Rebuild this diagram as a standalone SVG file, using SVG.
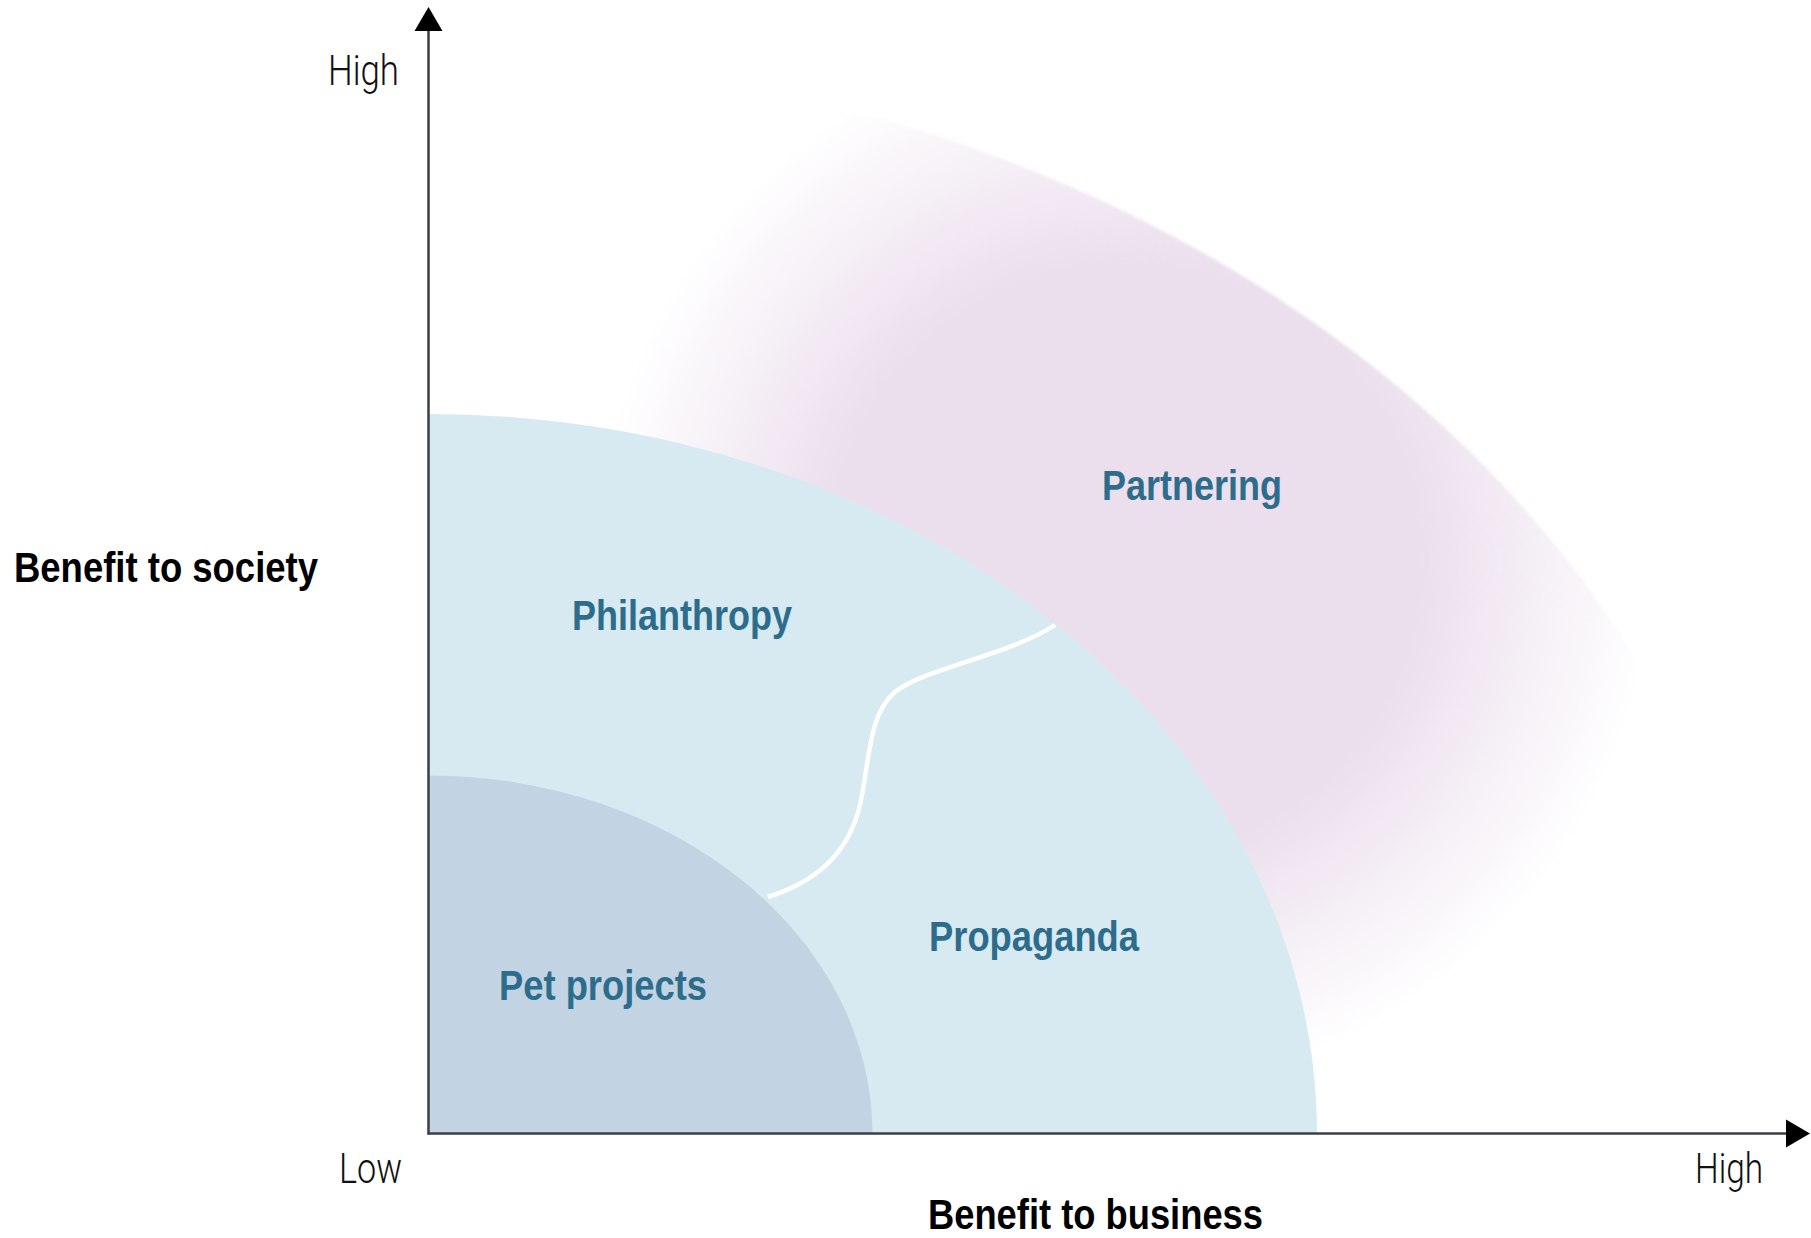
<svg xmlns="http://www.w3.org/2000/svg" width="1811" height="1238" viewBox="0 0 1811 1238">
<style>
.zone-label{font-family:"Liberation Sans Narrow","Liberation Sans",Arial,sans-serif;font-weight:bold;font-size:42px;fill:#2d6d8b}
.axis-title{font-family:"Liberation Sans Narrow","Liberation Sans",Arial,sans-serif;font-weight:bold;font-size:43px;fill:#000}
.axis-tick{font-family:Roboto,"Liberation Sans",Arial,sans-serif;font-weight:300;font-size:42px;fill:#111}
.axis{stroke:#3a3f45;stroke-width:2.5;fill:none}
.head{fill:#000}
</style>
<defs>
<radialGradient id="pinkGlow" gradientUnits="userSpaceOnUse" cx="1125" cy="560" r="530">
<stop offset="0" stop-color="#ebdfed" stop-opacity="1"/>
<stop offset="0.56" stop-color="#ebdfed" stop-opacity="1"/>
<stop offset="0.8" stop-color="#ebdfed" stop-opacity="0.45"/>
<stop offset="1" stop-color="#ebdfed" stop-opacity="0"/>
</radialGradient>
<filter id="soft" x="-5%" y="-5%" width="110%" height="110%">
<feGaussianBlur stdDeviation="1.5"/>
</filter>
</defs>
<rect x="0" y="0" width="1811" height="1238" fill="#ffffff"/>

<g id="partnering">
<path d="M 428.5 1134 L 428.5 56 A 1345 1078 0 0 1 1773.5 1134 Z" fill="url(#pinkGlow)" filter="url(#soft)"/>
<text class="zone-label" x="1102" y="500" textLength="180" lengthAdjust="spacingAndGlyphs">Partnering</text>
</g>

<g id="philanthropy-propaganda">
<path d="M 428.5 1134 L 428.5 414 A 888.5 720 0 0 1 1317 1134 Z" fill="#d7eaf2"/>
</g>

<g id="pet-projects">
<path d="M 428.5 1134 L 428.5 775.5 A 444 358.5 0 0 1 872.5 1134 Z" fill="#c2d4e3"/>
<text class="zone-label" x="499" y="1000" textLength="208" lengthAdjust="spacingAndGlyphs">Pet projects</text>
</g>

<g id="philanthropy">
<text class="zone-label" x="572" y="630" textLength="220" lengthAdjust="spacingAndGlyphs">Philanthropy</text>
</g>

<g id="propaganda">
<text class="zone-label" x="929" y="951" textLength="210" lengthAdjust="spacingAndGlyphs">Propaganda</text>
</g>

<g id="connectors">
<path d="M 768 897 C 815 882, 848 855, 860 805 C 870 760, 868 715, 895 692 C 925 668, 1010 655, 1055 625" fill="none" stroke="#ffffff" stroke-width="4.5" stroke-linecap="butt"/>
<line class="axis" x1="428.5" y1="28" x2="428.5" y2="1134.5"/>
<line class="axis" x1="427.5" y1="1133.5" x2="1790" y2="1133.5"/>
<polygon class="head" points="428.5,7 414.5,31 442.5,31"/>
<polygon class="head" points="1810,1133.5 1786,1119.5 1786,1147.5"/>
</g>

<g id="axis-labels">
<text class="axis-tick" x="328" y="85" textLength="71" lengthAdjust="spacingAndGlyphs">High</text>
<text class="axis-tick" x="339" y="1183" textLength="63" lengthAdjust="spacingAndGlyphs">Low</text>
<text class="axis-tick" x="1695" y="1183" textLength="68" lengthAdjust="spacingAndGlyphs">High</text>
<text class="axis-title" x="14" y="582" textLength="304" lengthAdjust="spacingAndGlyphs">Benefit to society</text>
<text class="axis-title" x="928" y="1229" textLength="335" lengthAdjust="spacingAndGlyphs">Benefit to business</text>
</g>
</svg>
